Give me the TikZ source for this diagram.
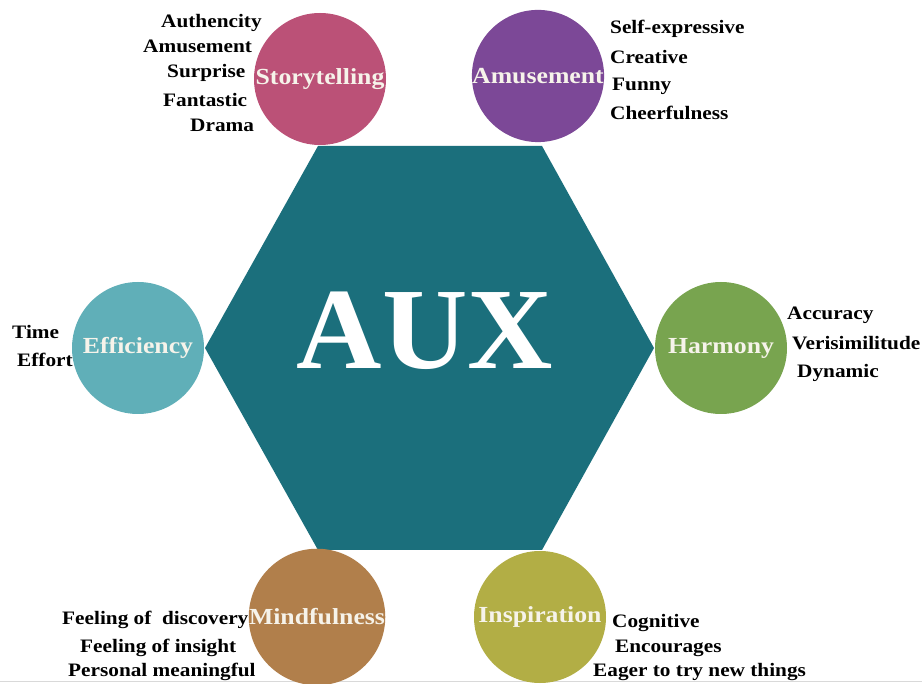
\documentclass[tikz,border=0pt]{standalone}
\usepackage{fontspec}
\newfontfamily\labfont[FakeStretch=1.12]{Liberation Serif}
\newfontfamily\auxfont[FakeStretch=1.02]{Liberation Serif}

\definecolor{hexteal}{HTML}{1B6F7C}
\definecolor{storycol}{HTML}{BB5177}
\definecolor{amusecol}{HTML}{7C4897}
\definecolor{efficcol}{HTML}{60AFB8}
\definecolor{harmcol}{HTML}{78A44F}
\definecolor{mindcol}{HTML}{B17F4B}
\definecolor{inspcol}{HTML}{B2AE45}
\definecolor{circtext}{HTML}{F6F3EA}

\begin{document}
\begin{tikzpicture}[x=1pt,y=-1pt,
  facet/.style={circle, minimum size=132pt, inner sep=0pt, text=circtext,
    font=\labfont\bfseries\fontsize{23}{24}\selectfont},
  attr/.style={anchor=base west, inner sep=0pt, text=black,
    font=\labfont\bfseries\fontsize{19}{20}\selectfont}
]
\useasboundingbox (0,0) rectangle (922,684);
\fill[white] (0,0) rectangle (922,684);
\draw[black!15, line width=1pt] (0,681) -- (922,681);

% central hexagon
\fill[hexteal] (318,146) -- (542,146) -- (654,348) -- (542,550)
  -- (318,550) -- (205,348) -- cycle;
\node[inner sep=0pt, text=white, font=\auxfont\bfseries\fontsize{116}{120}\selectfont]
  (aux) at (425,331) {AUX};

% the six facets
\node[facet, fill=storycol] (story) at (320,79)  {Storytelling};
\node[facet, fill=amusecol] (amuse) at (538,76)  {Amusement};
\node[facet, fill=efficcol] (effic) at (138,348) {Efficiency};
\node[facet, fill=harmcol]  (harm)  at (721,348) {Harmony};
\node[facet, fill=mindcol]  (mind)  at (317,617) {Mindfulness};
\node[facet, fill=inspcol]  (insp)  at (540,617) {Inspiration};

% Storytelling attributes
\node[attr] (s1) at (161,28)  {Authencity};
\node[attr] (s2) at (143,53)  {Amusement};
\node[attr] (s3) at (167,78)  {Surprise};
\node[attr] (s4) at (163,107) {Fantastic};
\node[attr] (s5) at (190,132) {Drama};

% Amusement attributes
\node[attr] (a1) at (610,34)  {Self-expressive};
\node[attr] (a2) at (610,64)  {Creative};
\node[attr] (a3) at (612,91)  {Funny};
\node[attr] (a4) at (610,120) {Cheerfulness};

% Efficiency attributes
\node[attr] (e1) at (12,339) {Time};
\node[attr] (e2) at (17,367) {Effort};

% Harmony attributes
\node[attr] (h1) at (787,320) {Accuracy};
\node[attr] (h2) at (792,350) {Verisimilitude};
\node[attr] (h3) at (797,378) {Dynamic};

% Mindfulness attributes
\node[attr] (m1) at (62,625) {Feeling of\ \ discovery};
\node[attr] (m2) at (80,652) {Feeling of insight};
\node[attr] (m3) at (68,676) {Personal meaningful};

% Inspiration attributes
\node[attr] (i1) at (612,627) {Cognitive};
\node[attr] (i2) at (615,652) {Encourages};
\node[attr] (i3) at (593,677) {Eager to try new things};
\end{tikzpicture}
\end{document}
